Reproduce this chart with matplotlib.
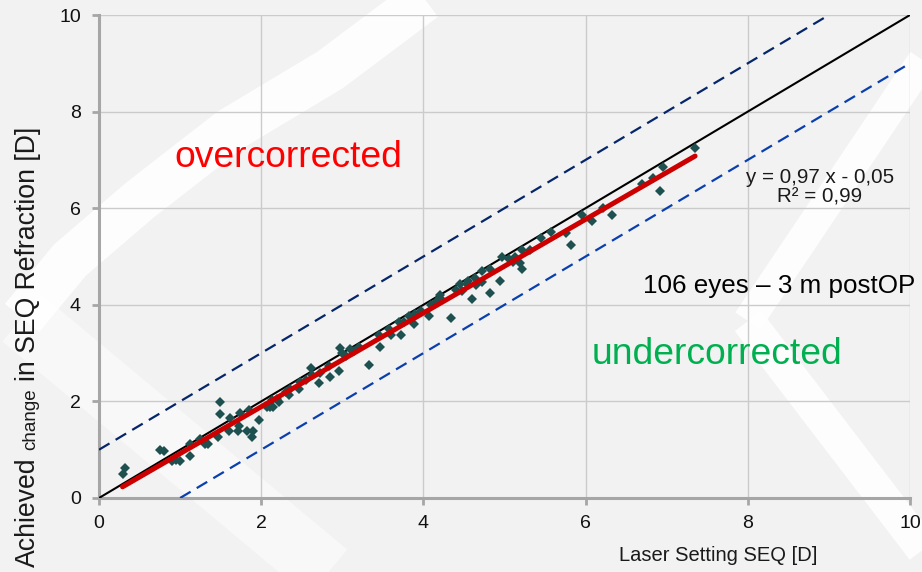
import numpy as np
import matplotlib.pyplot as plt
from matplotlib.lines import Line2D

plt.rcParams['font.family'] = ['Liberation Sans', 'DejaVu Sans']

# laser setting vs achieved change
laser = [0.29, 0.32, 0.75, 0.80, 0.90, 0.95, 1.00, 1.12, 1.12, 1.25, 1.31, 1.35,
         1.47, 1.49, 1.49, 1.60, 1.61, 1.71, 1.73, 1.74, 1.82, 1.85, 1.89, 1.90,
         1.97, 2.07, 2.11, 2.13, 2.15, 2.20, 2.22, 2.30, 2.34, 2.36, 2.46, 2.48,
         2.55, 2.61, 2.63, 2.71, 2.73, 2.83, 2.85, 2.96, 2.97, 3.00, 3.05, 3.10,
         3.15, 3.20, 3.33, 3.45, 3.46, 3.58, 3.60, 3.70, 3.72, 3.76, 3.82, 3.88,
         3.90, 3.97, 4.07, 4.09, 4.15, 4.20, 4.21, 4.34, 4.40, 4.45, 4.48, 4.54,
         4.55, 4.60, 4.64, 4.65, 4.72, 4.72, 4.82, 4.82, 4.94, 4.97, 5.05, 5.11,
         5.13, 5.19, 5.22, 5.22, 5.31, 5.45, 5.57, 5.76, 5.82, 5.95, 6.08, 6.22,
         6.32, 6.69, 6.83, 6.92, 6.96, 7.35]
achieved = [0.49, 0.62, 1.00, 0.98, 0.76, 0.78, 0.76, 0.87, 1.11, 1.23, 1.11, 1.11,
            1.26, 1.98, 1.74, 1.38, 1.66, 1.38, 1.49, 1.77, 1.38, 1.83, 1.26, 1.38,
            1.62, 1.89, 1.89, 2.02, 1.89, 2.05, 1.98, 2.20, 2.13, 2.25, 2.25, 2.40,
            2.45, 2.70, 2.55, 2.38, 2.59, 2.74, 2.51, 2.62, 3.10, 3.00, 2.95, 3.08,
            3.05, 3.12, 2.75, 3.38, 3.12, 3.49, 3.38, 3.65, 3.38, 3.65, 3.76, 3.61,
            3.80, 3.87, 3.76, 3.99, 4.05, 4.20, 4.14, 3.72, 4.30, 4.44, 4.28, 4.43,
            4.50, 4.12, 4.55, 4.40, 4.69, 4.47, 4.75, 4.25, 4.50, 4.98, 4.95, 4.89,
            5.00, 4.86, 5.13, 4.75, 5.13, 5.38, 5.50, 5.48, 5.24, 5.86, 5.74, 6.00,
            5.86, 6.50, 6.62, 6.36, 6.86, 7.24]

slope, intercept = 0.97, -0.05
band = 1.0
ticks = [0, 2, 4, 6, 8, 10]

fig = plt.figure(figsize=(9.22, 5.72), dpi=100, facecolor='#f2f2f2')


def px(x, y):
    return x / 922, 1 - y / 572


def band_line(pts, lw, alpha):
    xs, ys = zip(*[px(*p) for p in pts])
    fig.add_artist(Line2D(xs, ys, transform=fig.transFigure, color='white',
                          lw=lw, alpha=alpha, zorder=-5,
                          solid_joinstyle='miter', solid_capstyle='butt'))


# white chevron watermark in the background
band_line([(450, -20), (330, 70), (230, 130), (140, 200), (70, 260), (22, 318)], 32, 0.85)
band_line([(22, 318), (360, 600)], 44, 0.5)
band_line([(950, 20), (748, 321)], 22, 0.85)
band_line([(748, 321), (950, 585)], 24, 0.85)

ax = fig.add_axes([99 / 922, 1 - 498 / 572, 811 / 922, 483 / 572])
ax.patch.set_alpha(0)
ax.set_xlim(0, 10)
ax.set_ylim(0, 10)
ax.set_xticks(ticks)
ax.set_yticks(ticks)
ax.grid(True, color='#cbcbcb', lw=1)
ax.set_axisbelow(True)
for s in ['top', 'right']:
    ax.spines[s].set_visible(False)
for s in ['left', 'bottom']:
    ax.spines[s].set_color('#a6a6a6')
    ax.spines[s].set_linewidth(2.2)
ax.tick_params(direction='out', length=5, width=2, color='#a6a6a6',
               labelsize=14, labelcolor='#111111')
ax.tick_params(axis='x', pad=7)
ax.tick_params(axis='y', pad=8)

xl = np.array([0, 10])
ax.plot(xl, xl, color='black', lw=1.5, zorder=3)
ax.plot([0, 10 - band], [band, 10], color='#06266a', lw=1.6, dashes=(5.5, 3.2), zorder=3)
ax.plot([band, 10], [0, 10 - band], color='#0a3fae', lw=1.6, dashes=(5.5, 3.2), zorder=3)

ax.plot(laser, achieved, 'D', color='#1f5050', ms=5.4, mew=0, zorder=4)
fx = np.array([min(laser), max(laser)])
ax.plot(fx, slope * fx + intercept, color='#cc0000', lw=3.6, zorder=5,
        solid_capstyle='round')

ax.text(2.33, 7.04, 'overcorrected', color='#ff0000', fontsize=26.8,
        ha='center', va='center')
ax.text(7.62, 2.98, 'undercorrected', color='#00b050', fontsize=26.8,
        ha='center', va='center')
ax.text(10.07, 4.39, '106 eyes \u2013 3 m postOP', color='black', fontsize=18.7,
        ha='right', va='center', clip_on=False)
ax.text(8.89, 6.44, 'y = 0,97 x - 0,05\nR\u00b2 = 0,99', color='#1a1a1a',
        fontsize=14.8, ha='center', va='center', linespacing=1.05)

ax.set_xlabel('Laser Setting SEQ [D]', fontsize=14.5, color='#1a1a1a')
ax.xaxis.set_label_coords((718 - 99) / 811, -(546 - 498) / 483)

# y label with a smaller "change"
fig.canvas.draw()
r = fig.canvas.get_renderer()
pieces = [('Achieved', 19.2), ('change', 13.5), ('in SEQ Refraction [D]', 19.2)]
space = 0.278 * 19.2 * 100 / 72
bx, by = 35, 567
for txt, fs in pieces:
    t = fig.text(*px(bx, by), txt, fontsize=fs, rotation=90, rotation_mode='anchor',
                 ha='left', va='baseline', color='#1a1a1a')
    h = t.get_window_extent(r).height
    by -= h + space

fig.savefig('out.png', dpi=100, facecolor=fig.get_facecolor())
